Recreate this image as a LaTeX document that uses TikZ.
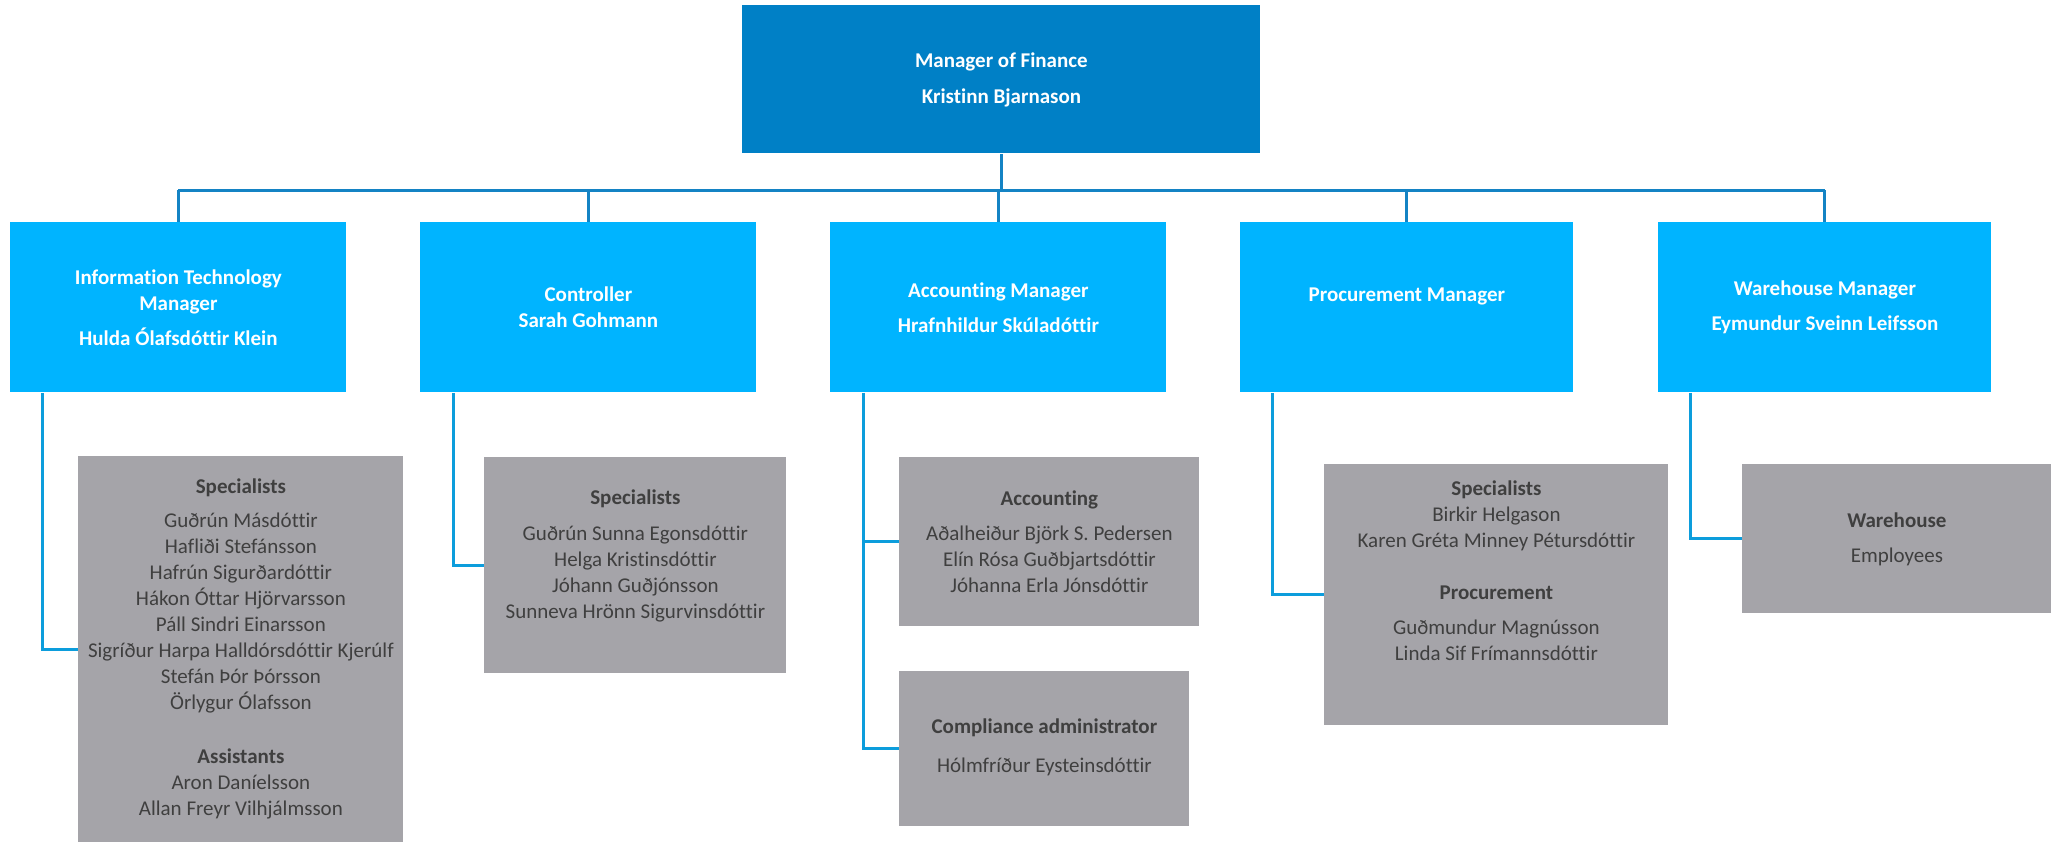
\documentclass[tikz,border=0pt]{standalone}
\usepackage{fontspec}
\setmainfont{Carlito}[Ligatures={NoCommon}]
\definecolor{finblue}{HTML}{0080C6}
\definecolor{mgrblue}{HTML}{00B4FF}
\definecolor{staffgray}{HTML}{A5A4A9}
\definecolor{stafftext}{HTML}{3F3F3F}
\definecolor{bustop}{HTML}{1483C4}
\definecolor{busside}{HTML}{0C9DDC}
\tikzset{
  mgrbox/.style={fill=mgrblue, text=white, font=\fontsize{10.5}{13}\selectfont\bfseries,
    align=center, anchor=north west, inner sep=0pt, minimum width=168pt, minimum height=85pt},
  headbox/.style={mgrbox, fill=finblue, minimum width=259pt, minimum height=74pt},
  staffbox/.style={fill=staffgray, text=stafftext, font=\fontsize{10.5}{13}\selectfont,
    align=center, anchor=north west, inner sep=0pt},
  toplink/.style={draw=bustop, line width=1.5pt},
  sidelink/.style={draw=busside, line width=1.5pt},
}

\begin{document}
\begin{tikzpicture}[x=0.5pt, y=-0.5pt]
		%%%%% START %%%%%
		\useasboundingbox (0,0) rectangle (2051,842);
		
		% head of department
		\node[headbox] (fin) at (742,5) {Manager of Finance\\[5pt]Kristinn Bjarnason};
		
		% managers
		\node[mgrbox] (it) at (10,222) {Information Technology\\Manager\\[4.5pt]Hulda Ólafsdóttir Klein};
		\node[mgrbox] (ctrl) at (420,222) {Controller\\Sarah Gohmann};
		\node[mgrbox] (acc) at (830,222) {Accounting Manager\\[4.5pt]Hrafnhildur Skúladóttir};
		\node[mgrbox, minimum width=166.5pt] (proc) at (1240,222) {Procurement Manager\\\mbox{}};
		\node[mgrbox, minimum width=166.5pt] (wh) at (1658,222) {Warehouse Manager\\[4.5pt]Eymundur Sveinn Leifsson};
		
		% staff
		\node[staffbox, minimum width=162.5pt, minimum height=193pt] (itstaff) at (78,456)
			{\textbf{Specialists}\\[4pt]Guðrún Másdóttir\\Hafliði Stefánsson\\Hafrún Sigurðardóttir\\
			Hákon Óttar Hjörvarsson\\Páll Sindri Einarsson\\Sigríður Harpa Halldórsdóttir Kjerúlf\\
			Stefán Þór Þórsson\\Örlygur Ólafsson\\[14pt]\textbf{Assistants}\\Aron Daníelsson\\Allan Freyr Vilhjálmsson};
		\node[staffbox, minimum width=151pt, minimum height=108pt] (ctrlstaff) at (484,457)
			{\textbf{Specialists}\\[5pt]Guðrún Sunna Egonsdóttir\\Helga Kristinsdóttir\\Jóhann Guðjónsson\\
			Sunneva Hrönn Sigurvinsdóttir\\[-2pt]\mbox{}};
		\node[staffbox, minimum width=150pt, minimum height=84.5pt] (accstaff) at (899,457)
			{\textbf{Accounting}\\[4.5pt]Aðalheiður Björk S. Pedersen\\Elín Rósa Guðbjartsdóttir\\Jóhanna Erla Jónsdóttir};
		\node[staffbox, minimum width=145pt, minimum height=77.5pt] (comp) at (899,671)
			{\mbox{}\\[-7pt]\textbf{Compliance administrator}\\[6.5pt]Hólmfríður Eysteinsdóttir};
		\node[staffbox, minimum width=172pt, minimum height=130.5pt] (procstaff) at (1324,464)
			{\textbf{Specialists}\\Birkir Helgason\\Karen Gréta Minney Pétursdóttir\\[13pt]
			\textbf{Procurement}\\[4.5pt]Guðmundur Magnússon\\Linda Sif Frímannsdóttir\\[11pt]\mbox{}};
		\node[staffbox, minimum width=154.5pt, minimum height=74.5pt] (whstaff) at (1742,464)
			{\textbf{Warehouse}\\[4.5pt]Employees};
		
		% links
		\coordinate (bus) at (1000,190);
		\draw[toplink] (fin.south) -- (fin.south |- bus);
		\draw[toplink] (bus -| it.north) -- (bus -| wh.north);
		\foreach \m in {it,ctrl,acc,proc,wh}
			\draw[toplink] (bus -| \m.north) -- (\m.north);
		
		\draw[sidelink] ([xshift=16pt]it.south west) |- (itstaff.west);
		\draw[sidelink] ([xshift=16.5pt]ctrl.south west) |- (ctrlstaff.west);
		\draw[sidelink] ([xshift=16.5pt]acc.south west) |- (accstaff.west);
		\draw[sidelink] ([xshift=16.5pt]acc.south west) |- (comp.west);
		\draw[sidelink] ([xshift=16pt]proc.south west) |- (procstaff.west);
		\draw[sidelink] ([xshift=16pt]wh.south west) |- (whstaff.west);
		
		%%%%% END %%%%%
	\end{tikzpicture}
\end{document}
